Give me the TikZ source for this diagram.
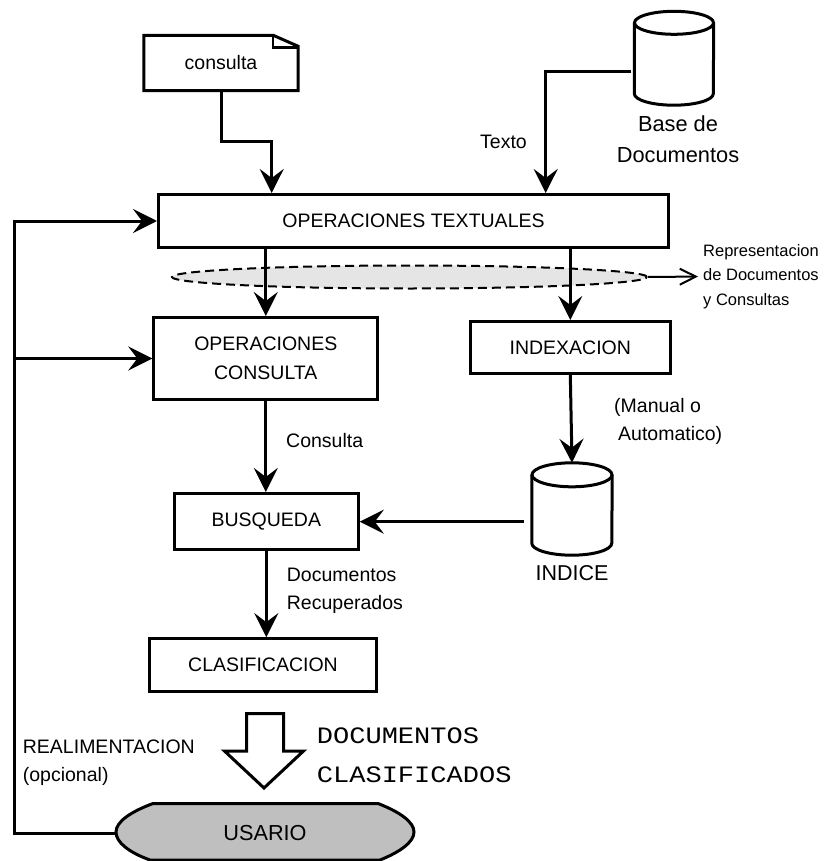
\documentclass[tikz,border=0pt]{standalone}
\usepackage{fontspec}
\setmainfont{Liberation Sans}
\setmonofont{Liberation Mono}[FakeStretch=1.15]
\usetikzlibrary{arrows.meta,shapes.geometric}

\begin{document}
\begin{tikzpicture}[x=1pt,y=1pt,
  caja/.style={draw, line width=3pt, inner sep=0pt, align=center, font=\fontsize{19.5}{29}\selectfont},
  etiqueta/.style={inner sep=0pt, align=left, font=\fontsize{19.5}{28}\selectfont},
  flecha/.style={line width=3pt, -{Stealth[length=24pt,width=24pt,inset=9pt]}},
  linea/.style={line width=3pt}]
\useasboundingbox (0,0) rectangle (830,-861);

% documento y bases
\node[inner sep=0pt, minimum width=154pt, minimum height=55pt, font=\fontsize{19.5}{24}\selectfont] (consulta) at (221,-63) {consulta};
\draw[linea] (consulta.south west) -- (consulta.north west) -- ([xshift=-25pt]consulta.north east) -- ([yshift=-11pt]consulta.north east) -- (consulta.south east) -- cycle;
\draw[line width=2.5pt] ([xshift=-25pt]consulta.north east) -- ([shift={(-25pt,-12pt)}]consulta.north east) -- ([yshift=-12pt]consulta.north east);

\node[inner sep=0pt, minimum width=79pt, minimum height=93.5pt] (base) at (674,-58.25) {};
\draw[linea] ([yshift=-11.5pt]base.north) ellipse [x radius=39.5pt, y radius=11.5pt];
\draw[linea] ([yshift=-11.5pt]base.north west) -- ([yshift=11.5pt]base.south west) arc [start angle=180, end angle=360, x radius=39.5pt, y radius=11.5pt] -- ([yshift=-11.5pt]base.north east);
\node[inner sep=0pt, align=center, font=\fontsize{21.8}{31}\selectfont] (lbase) at (678,-139.5) {Base de\\Documentos};

\node[inner sep=0pt, minimum width=80pt, minimum height=92pt] (indice) at (572,-509) {};
\draw[linea] ([yshift=-12pt]indice.north) ellipse [x radius=40pt, y radius=12pt];
\draw[linea] ([yshift=-12pt]indice.north west) -- ([yshift=12pt]indice.south west) arc [start angle=180, end angle=360, x radius=40pt, y radius=12pt] -- ([yshift=-12pt]indice.north east);
\node[inner sep=0pt, font=\fontsize{21.5}{26}\selectfont] (lindice) at (572,-573) {INDICE};

% cajas
\node[caja, minimum width=510pt, minimum height=53pt] (ot) at (413.5,-221) {OPERACIONES TEXTUALES};
\node[ellipse, draw, line width=2pt, dash pattern=on 9pt off 5pt, fill=black!10, minimum width=475pt, minimum height=23pt] (rep) at (409.5,-277) {};
\node[caja, minimum width=224pt, minimum height=82pt] (oc) at (265.8,-358.5) {OPERACIONES\\CONSULTA};
\node[caja, minimum width=200pt, minimum height=52pt] (ind) at (570.3,-347.5) {INDEXACION};
\node[caja, minimum width=184pt, minimum height=55.7pt] (bus) at (266.3,-521.3) {BUSQUEDA};
\node[caja, minimum width=226.7pt, minimum height=52.7pt] (clas) at (263,-665) {CLASIFICACION};

% usuario
\draw[linea, fill=black!25] (153,-803.5) -- (378,-803.5) .. controls (400,-812) and (414,-822) .. (414,-832) .. controls (414,-842) and (400,-852) .. (380,-860) -- (150,-860) .. controls (128,-852) and (116,-842) .. (116,-832) .. controls (116,-822) and (130,-812) .. (153,-803.5) -- cycle;
\node[inner sep=0pt, minimum width=298pt, minimum height=57pt, font=\fontsize{21.7}{26}\selectfont] (usuario) at (265,-833) {USARIO};

% etiquetas
\node[etiqueta, anchor=east] (texto) at (527,-141.7) {Texto};
\node[etiqueta, anchor=west, font=\fontsize{16.5}{24.7}\selectfont] (reptxt) at (703,-276.5) {Representacion\\de Documentos\\y Consultas};
\node[etiqueta, anchor=west] (lmanual) at (614,-421.7) {(Manual o\\\hspace{4pt}Automatico)};
\node[etiqueta, anchor=west] (lconsulta) at (286,-441) {Consulta};
\node[etiqueta, anchor=west] (lrecup) at (286.7,-591) {Documentos\\Recuperados};
\node[etiqueta, anchor=west] (lreal) at (22.7,-763) {REALIMENTACION\\(opcional)};
\node[inner sep=0pt, anchor=west, align=left, font=\ttfamily\fontsize{23.5}{39}\selectfont] (doccla) at (316.7,-755.5) {DOCUMENTOS\\CLASIFICADOS};

% conexiones
\draw[flecha] (consulta.south) -- ++(0,-51) -| ([xshift=-141.8pt]ot.north);
\draw[flecha] ([shift={(-3pt,-13.5pt)}]base.west) -| ([xshift=132.2pt]ot.north);
\draw[flecha] (ot.south -| oc.north) -- (oc.north);
\draw[flecha] (ot.south -| ind.north) -- (ind.north);
\draw[line width=2pt, -{Straight Barb[length=16pt,width=16pt]}, shorten >=5pt] (rep.east) -- (reptxt.west);
\draw[flecha] (ind.south) -- (indice.north);
\draw[flecha] (oc.south) -- (oc.south |- bus.north);
\draw[flecha] ([shift={(-8pt,-12.7pt)}]indice.west) -- ([yshift=-12.7pt]indice.west -| bus.east);
\draw[flecha] (bus.south) -- (bus.south |- clas.north);

% realimentacion
\coordinate (fb) at (14,-833);
\draw[flecha] (usuario.west) -- (fb) |- (ot.west);
\draw[flecha] (fb |- oc.west) -- (oc.west);

% flecha hueca
\draw[linea] (246.5,-713.5) -- (283.5,-713.5) -- (283.5,-751) -- (303.5,-751) -- (264,-788) -- (224.5,-751) -- (246.5,-751) -- cycle;
\end{tikzpicture}
\end{document}
